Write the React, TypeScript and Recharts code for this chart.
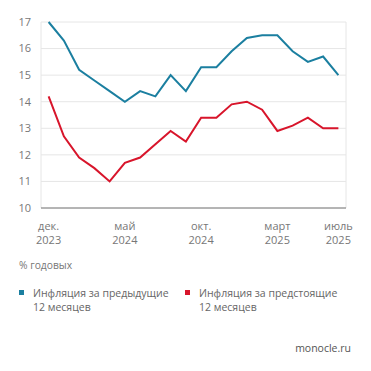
import { CartesianGrid, Line, LineChart, XAxis, YAxis } from "recharts";

const MONTHS = [
  "дек.", "янв.", "февр.", "март", "апр.", "май", "июнь", "июль", "авг.", "сент.",
  "окт.", "нояб.", "дек.", "янв.", "февр.", "март", "апр.", "май", "июнь", "июль",
];
const YEARS = [
  "2023", "2024", "2024", "2024", "2024", "2024", "2024", "2024", "2024", "2024",
  "2024", "2024", "2024", "2025", "2025", "2025", "2025", "2025", "2025", "2025",
];
const PAST = [17.0, 16.3, 15.2, 14.8, 14.4, 14.0, 14.4, 14.2, 15.0, 14.4, 15.3, 15.3, 15.9, 16.4, 16.5, 16.5, 15.9, 15.5, 15.7, 15.0];
const FUTURE = [14.2, 12.7, 11.9, 11.5, 11.0, 11.7, 11.9, 12.4, 12.9, 12.5, 13.4, 13.4, 13.9, 14.0, 13.7, 12.9, 13.1, 13.4, 13.0, 13.0];
const LABEL_TICKS = [0, 5, 10, 15, 19];
const Y_TICKS = [10, 11, 12, 13, 14, 15, 16, 17];

const BLUE = "#1b7fa0";
const RED = "#d8152b";
const MUTED = "#777";
const FONT = "'Open Sans', sans-serif";

const data = PAST.map((v, i) => ({ i, past: v, future: FUTURE[i] }));
const bounds = Array.from({ length: PAST.length + 1 }, (_, k) => k - 0.5);

function MonthTick({ x, y, payload }: any) {
  const i = payload.value as number;
  return (
    <g>
      <text x={x} y={y + 6} textAnchor="middle" fill={MUTED} fontSize={11} fontFamily={FONT}>
        {MONTHS[i]}
      </text>
      <text x={x} y={y + 20} textAnchor="middle" fill={MUTED} fontSize={11} fontFamily={FONT}>
        {YEARS[i]}
      </text>
    </g>
  );
}

function LegendItem({ color, text, left }: { color: string; text: string; left: number }) {
  return (
    <div style={{ position: "absolute", left, top: 278, display: "flex" }}>
      <span style={{ width: 5, height: 5, background: color, marginTop: 4, marginRight: 9 }} />
      <span style={{ fontSize: 10.5, lineHeight: "14px", color: "#666", whiteSpace: "pre" }}>{text}</span>
    </div>
  );
}

export default function App() {
  return (
    <div style={{ position: "relative", width: 355, height: 355, fontFamily: FONT }}>
      <LineChart width={355} height={240} data={data} margin={{ top: 14, right: 17, left: 0, bottom: 0 }}>
        <CartesianGrid stroke="#e6e6e6" horizontal vertical />
        <XAxis
          dataKey="i"
          type="number"
          domain={[-0.5, PAST.length - 0.5]}
          ticks={bounds}
          tick={false}
          tickSize={6}
          tickLine={{ stroke: "#e6e6e6" }}
          axisLine={{ stroke: "#777" }}
          height={8}
        />
        <XAxis
          xAxisId="lab"
          dataKey="i"
          type="number"
          domain={[-0.5, PAST.length - 0.5]}
          ticks={LABEL_TICKS}
          tick={<MonthTick />}
          axisLine={false}
          tickLine={false}
          height={32}
          interval={0}
        />
        <YAxis
          domain={[10, 17]}
          ticks={Y_TICKS}
          axisLine={false}
          tickLine={false}
          tickMargin={4}
          width={33}
          tick={{ fill: MUTED, fontSize: 11, fontFamily: FONT }}
        />
        <Line dataKey="past" stroke={BLUE} strokeWidth={2} dot={false} isAnimationActive={false} />
        <Line dataKey="future" stroke={RED} strokeWidth={2} dot={false} isAnimationActive={false} />
      </LineChart>
      <div style={{ position: "absolute", left: 11, top: 250, fontSize: 10.3, color: MUTED }}>% годовых</div>
      <LegendItem color={BLUE} text={"Инфляция за предыдущие\n12 месяцев"} left={11} />
      <LegendItem color={RED} text={"Инфляция за предстоящие\n12 месяцев"} left={177} />
      <div style={{ position: "absolute", right: 12, top: 333, fontSize: 10.5, color: "#555" }}>monocle.ru</div>
    </div>
  );
}
